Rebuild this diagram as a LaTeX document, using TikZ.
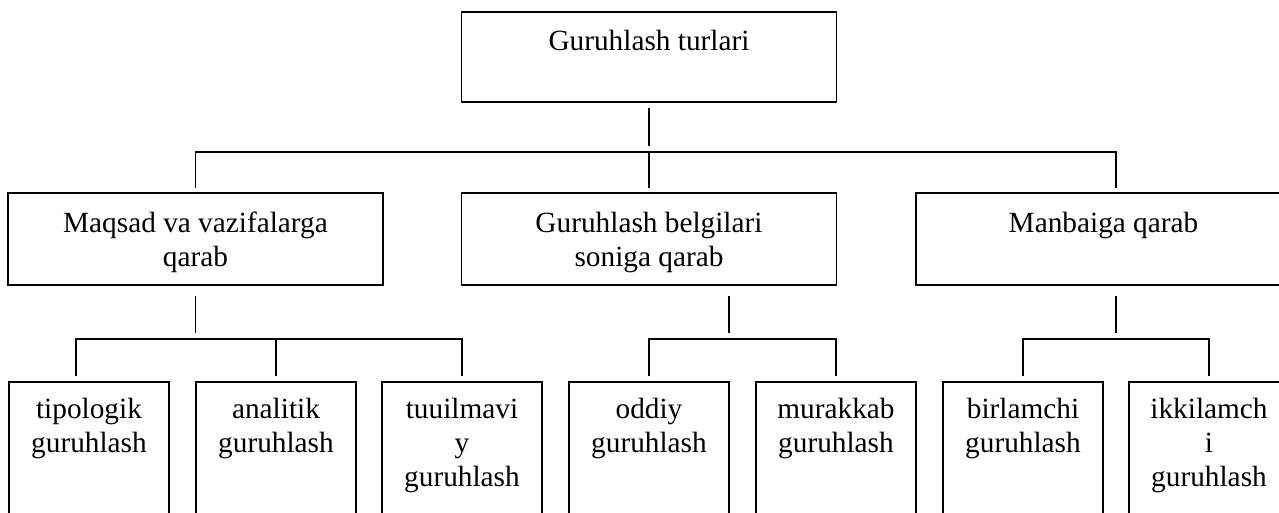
\documentclass[tikz,border=0pt]{standalone}
\usepackage{fontspec}
\setmainfont{Liberation Serif}
\begin{document}
\begin{tikzpicture}[x=1pt,y=-1pt,
  box/.style={draw, line width=1.9pt, inner sep=0pt, outer sep=0pt},
  topbox/.style={box, minimum width=375pt, minimum height=90pt},
  midbox/.style={box, minimum width=375pt, minimum height=92pt},
  leafbox/.style={box, minimum width=160pt, minimum height=220pt, anchor=north},
  lbl/.style={anchor=north, inner sep=0pt, align=center, font=\fontsize{29.3}{34}\selectfont},
  conn/.style={line width=1.9pt}]
\useasboundingbox (0,0) rectangle (1279,512);
\clip (0,0) rectangle (1279,512);

% boxes
\node[topbox] (top) at (649,57) {};
\node[midbox] (m1) at (195.5,239) {};
\node[midbox] (m2) at (649,239) {};
\node[midbox] (m3) at (1103.5,239) {};
\node[leafbox] (b1) at (89,382) {};
\node[leafbox] (b2) at (276,382) {};
\node[leafbox] (b3) at (462,382) {};
\node[leafbox] (b4) at (649,382) {};
\node[leafbox] (b5) at (836,382) {};
\node[leafbox] (b6) at (1023,382) {};
\node[leafbox] (b7) at (1209,382) {};

% texts
\node[lbl] (ttop) at (649,26.5) {\strut Guruhlash turlari};
\node[lbl] (t1) at (195.5,208.2) {\strut Maqsad va vazifalarga\\\strut qarab};
\node[lbl] (t2) at (649,208.2) {\strut Guruhlash belgilari\\\strut soniga qarab};
\node[lbl] (t3) at (1103.5,208.7) {\strut Manbaiga qarab};
\node[lbl] (l1) at (89,394.2) {\strut tipologik\\\strut guruhlash};
\node[lbl] (l2) at (276,394.2) {\strut analitik\\\strut guruhlash};
\node[lbl] (l3) at (462,394.2) {\strut tuuilmavi\\\strut y\\\strut guruhlash};
\node[lbl] (l4) at (649,394.2) {\strut oddiy\\\strut guruhlash};
\node[lbl] (l5) at (836,394.2) {\strut murakkab\\\strut guruhlash};
\node[lbl] (l6) at (1023,394.2) {\strut birlamchi\\\strut guruhlash};
\node[lbl] (l7) at (1209,394.2) {\strut ikkilamch\\\strut i\\\strut guruhlash};

% helper coordinates
\coordinate (busA) at (649,152);
\coordinate (busB) at (0,339);
\coordinate (m3c) at (1116,239);
\coordinate (m2c) at (729,239);
\coordinate (b1c) at (76,382);

% top level connectors
\draw[conn, shorten <=6pt, shorten >=6pt] (top.south) -- (busA);
\draw[conn] ([yshift=5pt]m1.north) -- (m1.north |- busA) -- (m3c |- busA) -- ([yshift=5pt]m3c |- m3.north);
\draw[conn] (busA) -- ([yshift=5pt]m2.north);

% second level connectors
\draw[conn, shorten <=11pt, shorten >=6pt] (m1.south) -- (m1.south |- busB);
\draw[conn, shorten <=11pt, shorten >=6pt] (m2c |- m2.south) -- (m2c |- busB);
\draw[conn, shorten <=11pt, shorten >=6pt] (m3c |- m3.south) -- (m3c |- busB);

\draw[conn] ([yshift=6pt]b1c) -- (b1c |- busB) -| ([yshift=6pt]b3.north);
\draw[conn] ([yshift=6pt]b2.north) -- (b2.north |- busB);
\draw[conn] ([yshift=6pt]b4.north) -- (b4.north |- busB) -| ([yshift=6pt]b5.north);
\draw[conn] ([yshift=6pt]b6.north) -- (b6.north |- busB) -| ([yshift=6pt]b7.north);
\end{tikzpicture}
\end{document}
